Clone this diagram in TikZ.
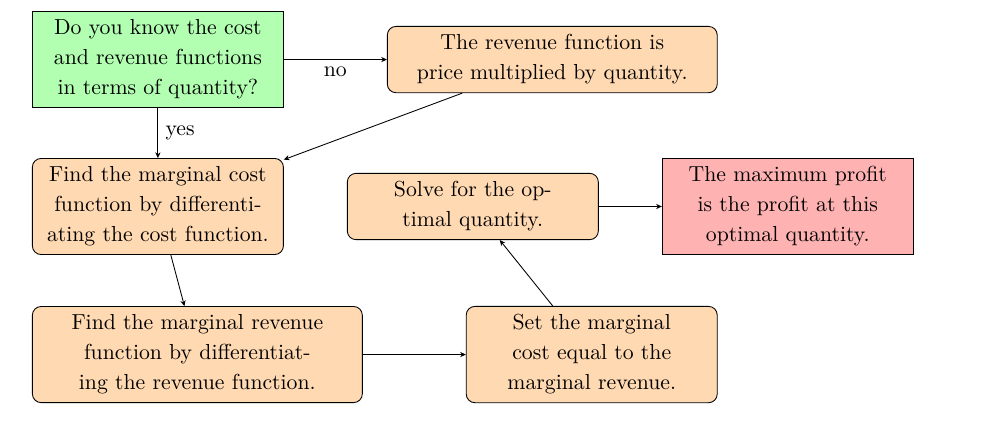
\documentclass[tikz,border=0pt]{standalone}
\usepackage{xcolor}
\usepackage{tikz}
\usetikzlibrary{positioning, arrows.meta}

\begin{document}
\begin{tikzpicture}[
    node distance=23pt,
    process/.style={rectangle, draw, fill=orange!30, text width=108.8pt, inner ysep=3.8pt, text centered, rounded corners, font=\fontsize{10pt}{13.8pt}\selectfont},
    wideprocess/.style={process, text width=145.1pt},
    decision/.style={rectangle, draw, fill=green!30, text width=108.8pt, inner ysep=3.8pt, text centered, font=\fontsize{10pt}{13.8pt}\selectfont},
    result/.style={rectangle, draw, fill=red!30, text width=108.8pt, inner ysep=3.8pt, text centered, font=\fontsize{10pt}{13.8pt}\selectfont},
    arrow/.style={-{Stealth[length=2.6pt, width=2.4pt]}}
]

% Question
\node[decision] (q) {Do you know the cost and revenue functions in terms of quantity?};
\node[wideprocess, right=47.4pt of q] (rev) {The revenue function is\\ price multiplied by quantity.};

% Steps
\node[process, below=23pt of q] (mc) {Find the marginal cost function by differentiating the cost function.};
\node[wideprocess, below=23.5pt of mc.south west, anchor=north west] (mr) {Find the marginal revenue function by differentiating the revenue function.};
\node[process, right=47.4pt of mr] (set) {Set the marginal cost equal to the marginal revenue.};
\node[process, right=29pt of mc] (opt) {Solve for the optimal quantity.};

% Result
\node[result, right=29pt of opt] (max) {The maximum profit is the profit at this optimal quantity.};

\useasboundingbox ([xshift=-14.7pt,yshift=5.1pt]q.north west) rectangle ++(460pt,-195.5pt);

% Arrows
\draw[arrow] (q) -- node[below] {no} (rev);
\draw[arrow] (q) -- node[right] {yes} (mc);
\draw[arrow] (rev) -- (mc);
\draw[arrow] (mc) -- (mr);
\draw[arrow] (mr) -- (set);
\draw[arrow] (set) -- (opt);
\draw[arrow] (opt) -- (max);

\end{tikzpicture}
\end{document}
